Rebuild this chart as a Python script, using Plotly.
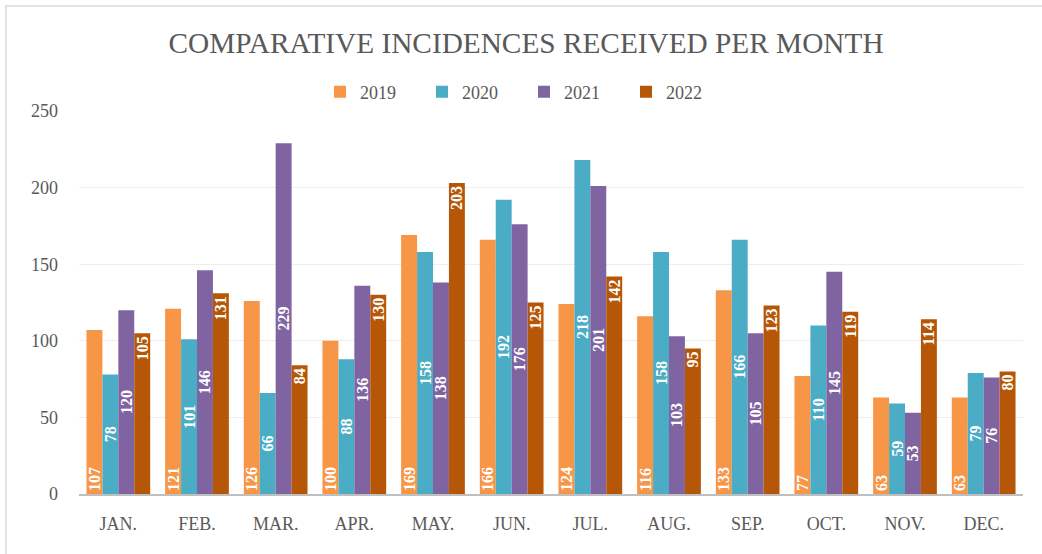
import plotly.graph_objects as go

months = ["JAN.", "FEB.", "MAR.", "APR.", "MAY.", "JUN.", "JUL.", "AUG.", "SEP.", "OCT.", "NOV.", "DEC."]
v2019 = [107, 121, 126, 100, 169, 166, 124, 116, 133, 77, 63, 63]
v2020 = [78, 101, 66, 88, 158, 192, 218, 158, 166, 110, 59, 79]
v2021 = [120, 146, 229, 136, 138, 176, 201, 103, 105, 145, 53, 76]
v2022 = [105, 131, 84, 130, 203, 125, 142, 95, 123, 119, 114, 80]
years = ["2019", "2020", "2021", "2022"]
series = [v2019, v2020, v2021, v2022]
colors = ["#F79646", "#4BACC6", "#8064A2", "#B65708"]
anchors = ["start", "middle", "middle", "end"]

FONT = "Liberation Serif"
fig = go.Figure()
for name, vals, col, anc in zip(years, series, colors, anchors):
    fig.add_trace(go.Bar(
        name=name, x=months, y=vals, marker_color=col,
        marker_line_width=0,
        text=[str(v) for v in vals], textposition="inside",
        insidetextanchor=anc, textangle=-90,
        textfont=dict(family=FONT, size=16, color="white", weight="bold"),
    ))

W, H = 1042, 554
L, R, T, B = 79, 19, 111, 60
pw, ph = W - L - R, H - T - B

fig.update_layout(
    width=W, height=H,
    paper_bgcolor="white", plot_bgcolor="white",
    margin=dict(l=L, r=R, t=T, b=B, autoexpand=False),
    barmode="group", bargap=0.19, bargroupgap=0,
    title=dict(text="COMPARATIVE INCIDENCES RECEIVED PER MONTH",
               x=(526 - L) / pw, xanchor="center", xref="paper",
               y=1 - 43 / H, yanchor="middle",
               font=dict(family=FONT, size=29.3, color="#595959")),
    legend=dict(orientation="h", x=(524 - L) / pw, xanchor="center",
                y=(494 - 92) / ph, yanchor="middle",
                font=dict(family=FONT, size=18, color="#595959"),
                entrywidth=57, entrywidthmode="pixels", itemwidth=30,
                traceorder="normal"),
    showlegend=True,
    uniformtext=dict(mode="show", minsize=16),
)
fig.update_yaxes(range=[0, 250], dtick=50, showgrid=True, gridcolor="#EDEDED",
                 gridwidth=1, zeroline=False, showline=False,
                 tickfont=dict(family=FONT, size=18, color="#595959"),
                 ticklabelstandoff=20)
fig.update_xaxes(showline=True, linecolor="#BFBFBF", linewidth=2,
                 tickfont=dict(family=FONT, size=18, color="#595959"),
                 ticklabelstandoff=12)
fig.add_shape(type="rect", xref="paper", yref="paper",
              x0=(6 - L) / pw, x1=1.2, y0=-0.5, y1=(494 - 6) / ph,
              line=dict(color="#D9D9D9", width=1.5), layer="below")
fig.write_html("out.html", config={"displayModeBar": False},
               post_script="document.body.style.margin='0';")
